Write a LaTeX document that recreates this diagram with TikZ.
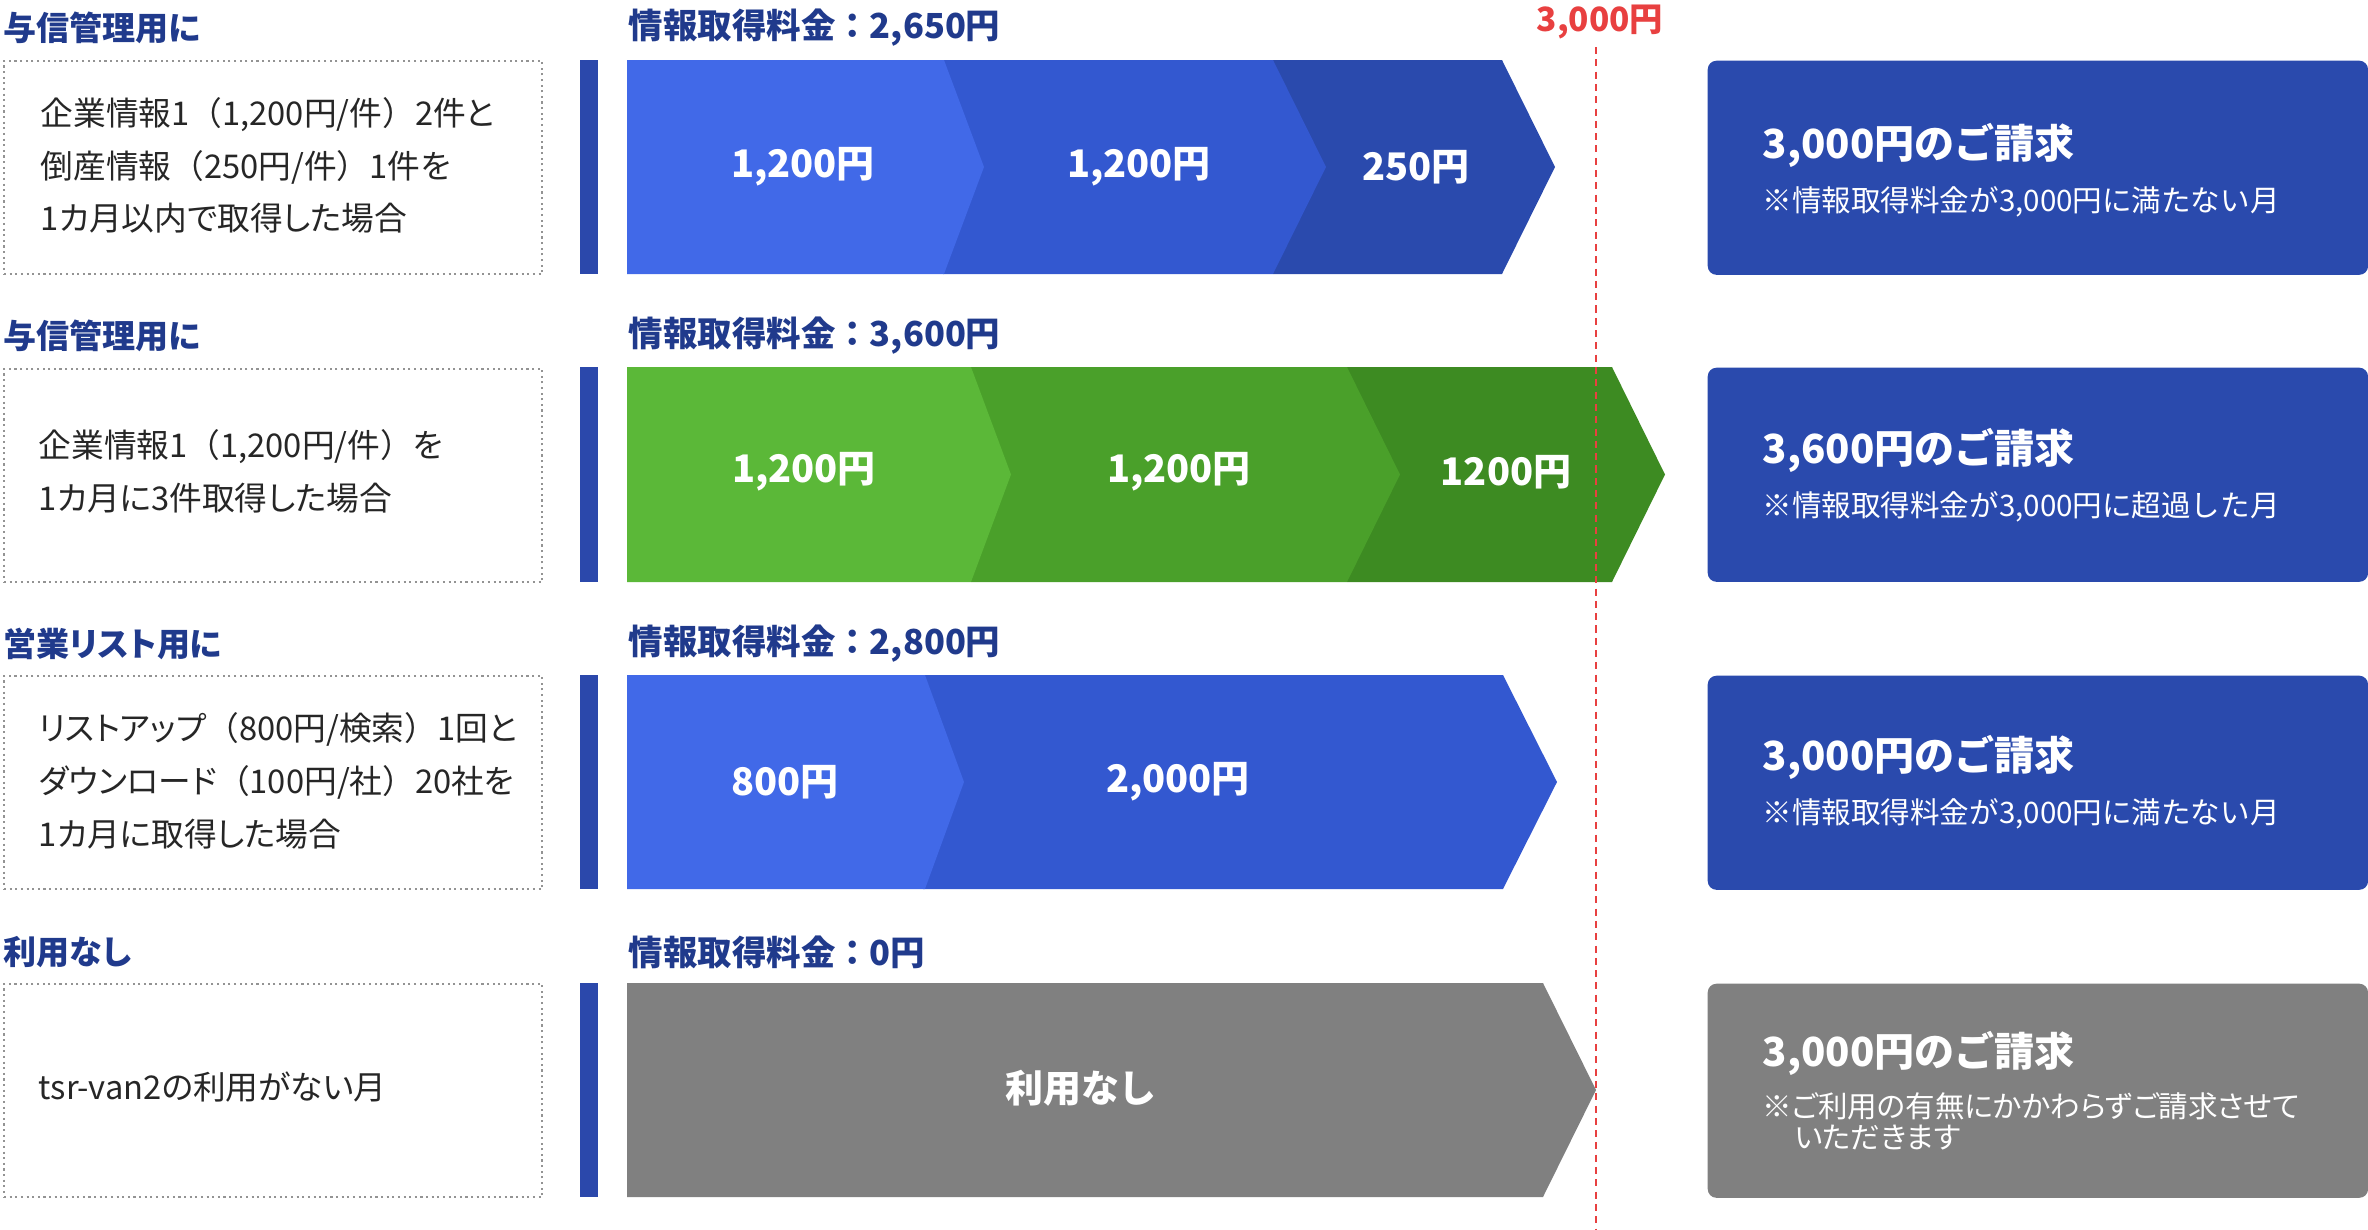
\documentclass[tikz,border=0pt]{standalone}
\usepackage{fontspec}
\setmainfont{Noto Sans CJK JP}
\newfontfamily\pfont{Noto Sans CJK JP}[RawFeature=+palt]
\newcommand\lpar{{\rmfamily （}}
\newcommand\rpar{{\rmfamily ）}}
\definecolor{navy}{HTML}{203A8C}
\definecolor{txtdark}{HTML}{262626}
\definecolor{barblue}{HTML}{2B48AB}
\definecolor{billblue}{HTML}{2A4AAD}
\definecolor{blueA}{HTML}{4169E8}
\definecolor{blueB}{HTML}{3358D0}
\definecolor{blueC}{HTML}{2A4AAD}
\definecolor{greenA}{HTML}{5BB838}
\definecolor{greenB}{HTML}{4AA02A}
\definecolor{greenC}{HTML}{3D8B22}
\definecolor{grayfill}{HTML}{808080}
\definecolor{limred}{HTML}{E84040}
\newcommand\chevseg[6]{\fill[#1] (#2,#5) -- (#3,#5) -- (#4,{(#5+#6)/2}) -- (#3,#6) -- (#2,#6) -- cycle;}
\begin{document}
\begin{tikzpicture}[x=0.01cm,y=-0.01cm,
  rowtitle/.style={anchor=west, inner sep=0pt, text=navy, font=\pfont\bfseries\fontsize{9.4}{11}\selectfont},
  costtitle/.style={anchor=west, inner sep=0pt, text=navy, font=\bfseries\fontsize{9.8}{11}\selectfont},
  desc/.style={anchor=west, inner sep=0pt, text=txtdark, font=\pfont\fontsize{9.3}{11}\selectfont},
  descbox/.style={anchor=north west, draw=gray!85, densely dotted, line width=0.6pt, minimum width=5.38cm, minimum height=2.13cm, inner sep=0pt},
  seglabel/.style={inner sep=0pt, text=white, font=\bfseries\fontsize{10.8}{12}\selectfont},
  billbox/.style={anchor=north west, rounded corners=2.5pt, minimum width=6.6cm, minimum height=2.14cm, inner sep=0pt},
  billhead/.style={anchor=west, inner sep=0pt, text=white, font=\bfseries\fontsize{11.4}{13}\selectfont},
  billsub/.style={anchor=west, inner sep=0pt, text=white, font=\fontsize{8.4}{10}\selectfont},
  billsubp/.style={billsub, font=\pfont\fontsize{8.4}{10}\selectfont},
  limline/.style={draw=limred, dashed, dash pattern=on 2pt off 1.5pt, line width=0.45pt}]
\useasboundingbox (0,0) rectangle (2368,1230);

% ---------- Row 1 ----------
\node[rowtitle] (t1) at (3,28) {与信管理用に};
\node[costtitle] (c1) at (628,28) {情報取得料金：2,650円};
\node[descbox] (d1) at (3,60) {};
\node[desc] (d1a) at (40,115) {企業情報1\lpar 1,200円/件\rpar 2件と};
\node[desc] (d1b) at (40,167) {倒産情報\lpar 250円/件\rpar 1件を};
\node[desc] (d1c) at (40,218) {1カ月以内で取得した場合};
\fill[barblue] (580,60) rectangle (598,274);
\chevseg{blueC}{1273}{1502}{1555}{60}{274}
\chevseg{blueB}{943}{1273}{1326}{60}{274}
\chevseg{blueA}{627}{944}{984}{60}{274}
\node[seglabel] (s11) at (803,167) {1,200円};
\node[seglabel] (s12) at (1139,167) {1,200円};
\node[seglabel] (s13) at (1416,167) {250円};
\node[billbox, fill=billblue] (b1) at (1707,60) {};
\node[billhead] (b1h) at (1762,145) {3,000円のご請求};
\node[billsub] (b1s) at (1762,202) {※情報取得料金が3,000円に満たない月};

% ---------- Row 2 ----------
\node[rowtitle] (t2) at (3,336) {与信管理用に};
\node[costtitle] (c2) at (628,336) {情報取得料金：3,600円};
\node[descbox] (d2) at (3,368) {};
\node[desc] (d2a) at (38,447) {企業情報1\lpar 1,200円/件\rpar を};
\node[desc] (d2b) at (38,498) {1カ月に3件取得した場合};
\fill[barblue] (580,367) rectangle (598,582);
\chevseg{greenC}{1347}{1612}{1665}{367}{582}
\chevseg{greenB}{971}{1347}{1400}{367}{582}
\chevseg{greenA}{627}{971}{1011}{367}{582}
\node[seglabel] (s21) at (804,472) {1,200円};
\node[seglabel] (s22) at (1179,472) {1,200円};
\node[seglabel] (s23) at (1506,472) {1200円};
\node[billbox, fill=billblue] (b2) at (1707,367) {};
\node[billhead] (b2h) at (1762,450) {3,600円のご請求};
\node[billsub] (b2s) at (1762,507) {※情報取得料金が3,000円に超過した月};

% ---------- Row 3 ----------
\node[rowtitle] (t3) at (3,644) {営業リスト用に};
\node[costtitle] (c3) at (628,644) {情報取得料金：2,800円};
\node[descbox] (d3) at (3,675) {};
\node[desc] (d3a) at (38,729) {リストアップ\lpar 800円/検索\rpar 1回と};
\node[desc] (d3b) at (38,782) {ダウンロード\lpar 100円/社\rpar 20社を};
\node[desc] (d3c) at (38,834) {1カ月に取得した場合};
\fill[barblue] (580,675) rectangle (598,889);
\chevseg{blueB}{923}{1503}{1557}{675}{889}
\chevseg{blueA}{627}{925}{964}{675}{889}
\node[seglabel] (s31) at (785,782) {800円};
\node[seglabel] (s32) at (1178,782) {2,000円};
\node[billbox, fill=billblue] (b3) at (1707,675) {};
\node[billhead] (b3h) at (1762,757) {3,000円のご請求};
\node[billsub] (b3s) at (1762,814) {※情報取得料金が3,000円に満たない月};

% ---------- Row 4 ----------
\node[rowtitle] (t4) at (3,952) {利用なし};
\node[costtitle] (c4) at (628,952) {情報取得料金：0円};
\node[descbox] (d4) at (3,983) {};
\node[desc] (d4a) at (38,1087) {tsr-van2の利用がない月};
\fill[barblue] (580,983) rectangle (598,1197);
\chevseg{grayfill}{627}{1543}{1596}{983}{1197}
\node[seglabel] (s41) at (1081,1088) {利用なし};
\node[billbox, fill=grayfill] (b4) at (1707,983) {};
\node[billhead] (b4h) at (1762,1053) {3,000円のご請求};
\node[billsubp] (b4s) at (1762,1106) {※ご利用の有無にかかわらずご請求させて};
\node[billsubp] (b4t) at (1794,1138) {いただきます};

% ---------- 3,000 yen limit ----------
\node[inner sep=0pt, text=limred, font=\bfseries\fontsize{9.5}{11}\selectfont] (lim) at (1600,22) {3,000円};
\coordinate (limtop) at (1596,47);
\coordinate (limbot) at (1596,1230);
\draw[limline] (limtop) -- (limbot);
\end{tikzpicture}
\end{document}
